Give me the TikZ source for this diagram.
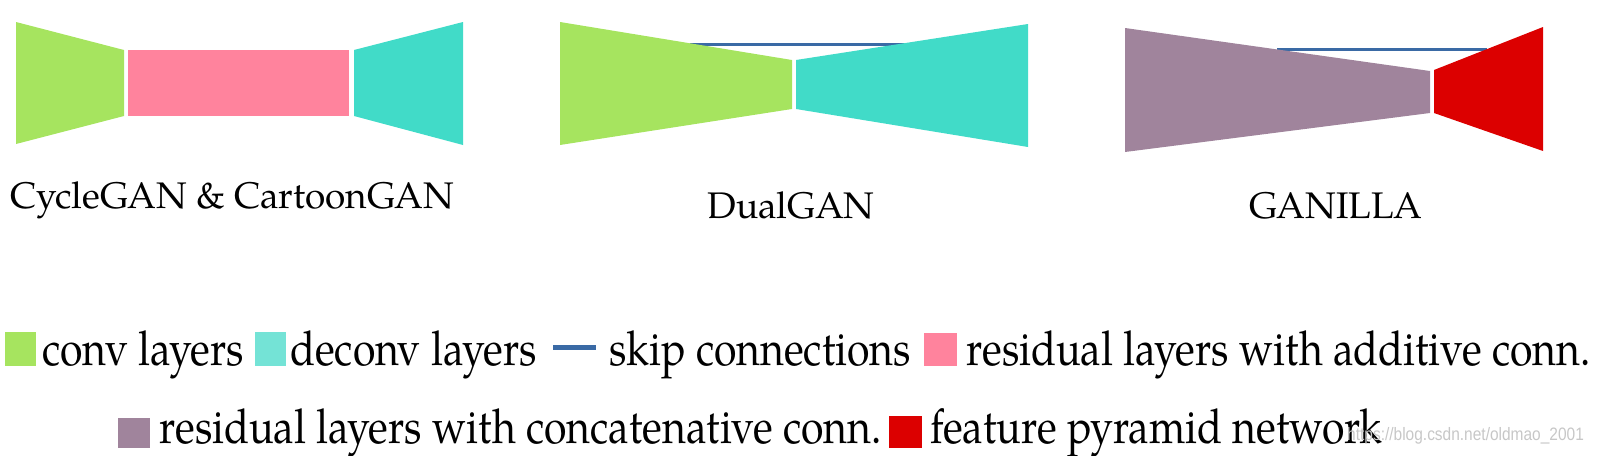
\documentclass[tikz,border=0pt]{standalone}
\usepackage{fontspec}
\usepackage{graphicx}
\setmainfont{TeX Gyre Pagella}
\newfontfamily\wmfont{Liberation Sans}
\definecolor{convgreen}{HTML}{A6E45F}
\definecolor{deconvteal}{HTML}{41DBC8}
\definecolor{legteal}{HTML}{74E3D6}
\definecolor{respink}{HTML}{FF839D}
\definecolor{respurple}{HTML}{A0849C}
\definecolor{fpnred}{HTML}{DC0000}
\definecolor{skipblue}{HTML}{3A6AA5}
\tikzset{
  caption/.style={anchor=base, inner sep=0pt, font=\fontsize{37}{44}\selectfont},
  legtext/.style={anchor=base west, inner sep=0pt},
  skipline/.style={draw=skipblue, line width=3pt},
}
\newcommand{\legfont}[1]{\scalebox{0.854}[1]{\fontsize{48}{56}\selectfont #1}}
\begin{document}
\begin{tikzpicture}[x=1pt,y=-1pt]
\useasboundingbox (0,0) rectangle (1597,455);
% ---------- CycleGAN & CartoonGAN ----------
\fill[convgreen] (16,22) -- (124,50) -- (124,116) -- (16,144) -- cycle;
\fill[respink] (128,50) rectangle (349,116);
\fill[deconvteal] (354,50) -- (463,22) -- (463,145) -- (354,116) -- cycle;
\node[caption] (c1) at (232,208) {CycleGAN \& CartoonGAN};
% ---------- DualGAN ----------
\coordinate (d1) at (690,44);
\coordinate (d2) at (907,44);
\draw[skipline] (d1) -- (d2);
\fill[convgreen] (560,22) -- (792,60) -- (792,109) -- (560,145) -- cycle;
\fill[deconvteal] (796,60) -- (1028,24) -- (1028,147) -- (796,109) -- cycle;
\node[caption] (c2) at (791,218) {DualGAN};
% ---------- GANILLA ----------
\coordinate (g1) at (1277,49);
\coordinate (g2) at (1487,49);
\draw[skipline] (g1) -- (g2);
\fill[respurple] (1125,28) -- (1430,71) -- (1430,113) -- (1125,152) -- cycle;
\fill[fpnred] (1434,70) -- (1543,27) -- (1543,151) -- (1434,113) -- cycle;
\node[caption] (c3) at (1336,218) {GANILLA};
% ---------- legend row 1 ----------
\fill[convgreen] (5,332) rectangle (36,366);
\node[legtext] (l1) at (42,365) {\legfont{conv layers}};
\fill[legteal] (255,332) rectangle (286,366);
\node[legtext] (l2) at (290,365) {\legfont{deconv layers}};
\coordinate (s1) at (553,347);
\coordinate (s2) at (596,347);
\draw[draw=skipblue, line width=5pt] (s1) -- (s2);
\node[legtext] (l3) at (609,365) {\legfont{skip connections}};
\fill[respink] (924,333) rectangle (957,366);
\node[legtext] (l4) at (966,365) {\legfont{residual layers with additive conn.}};
% ---------- legend row 2 ----------
\fill[respurple] (118,418) rectangle (150,448);
\node[legtext] (l5) at (159,443) {\legfont{residual layers with concatenative conn.}};
\fill[fpnred] (889,416) rectangle (922,448);
\node[legtext] (l6) at (930,443) {\legfont{feature pyramid network}};
% ---------- watermark ----------
\node[legtext, text=black!22] (wm) at (1347,440) {\scalebox{0.86}[1]{\wmfont\fontsize{18}{21}\selectfont https://blog.csdn.net/oldmao\_2001}};
\end{tikzpicture}
\end{document}
